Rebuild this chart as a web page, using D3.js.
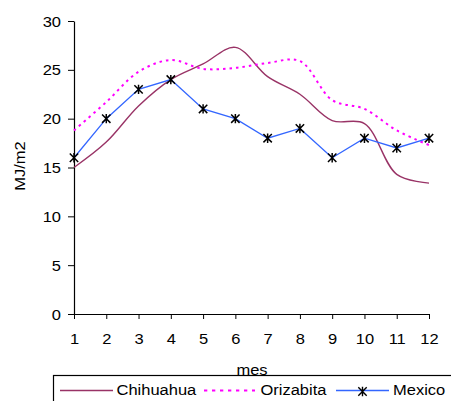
<!DOCTYPE html>
<html>
<head>
<meta charset="utf-8">
<script src="https://cdn.jsdelivr.net/npm/d3@7"></script>
<style>
  body { margin: 0; background: #fff; }
  text { font-family: "Liberation Sans", Arial, sans-serif; }
</style>
</head>
<body>
<div id="chart"></div>
<script>
// months on x
var months = [1, 2, 3, 4, 5, 6, 7, 8, 9, 10, 11, 12]
var yTicks = [0, 5, 10, 15, 20, 25, 30]

// MJ/m2 per station
var chihuahua = [15.0, 17.6, 21.3, 24.0, 25.6, 27.3, 24.3, 22.5, 19.8, 19.5, 14.3, 13.4]
var orizabita = [18.8, 21.7, 24.8, 26.0, 25.1, 25.2, 25.7, 25.9, 21.9, 21.0, 18.8, 17.3]
var mexico = [16, 20, 23, 24, 21, 20, 18, 19, 16, 18, 17, 18]

var seriesNames = ['Chihuahua', 'Orizabita', 'Mexico']

var W = 451, H = 401
var SX = 1.1 // the original text is a bit wider than Arial
var svg = d3.select('#chart').append('svg')
    .attr('width', W)
    .attr('height', H)

var x = d3.scaleLinear().domain([1, 12]).range([74, 429])
var y = d3.scaleLinear().domain([0, 30]).range([314, 21])

// stretch a text horizontally around its own anchor point
function widen(sel) {
    sel.each(function() {
        var t = d3.select(this)
        var tx = +t.attr('x') || 0
        var ty = +t.attr('y') || 0
        t.attr('transform', 'translate(' + tx + ',' + ty + ') scale(' + SX + ',1) translate(' + (-tx) + ',' + (-ty) + ')')
    })
}

// axes
var xAxis = svg.append('g')
    .attr('transform', 'translate(0,' + y(0) + ')')
    .call(d3.axisBottom(x).tickValues(months).tickSize(5).tickPadding(14.5).tickSizeOuter(0).tickFormat(d3.format('d')))
var yAxis = svg.append('g')
    .attr('transform', 'translate(' + x(1) + ',0)')
    .call(d3.axisLeft(y).tickValues(yTicks).tickSize(6).tickPadding(7).tickSizeOuter(0))

svg.selectAll('.domain').attr('stroke', '#000').attr('stroke-width', 1.2)
svg.selectAll('.tick line').attr('stroke', '#000')
svg.selectAll('.tick text')
    .style('font-family', '"Liberation Sans", Arial, sans-serif')
    .style('font-size', '15px')
    .attr('fill', '#000')
yAxis.selectAll('.tick text').attr('dy', '0.34em')
xAxis.selectAll('.tick text').attr('dy', '0.71em')
widen(svg.selectAll('.tick text'))

// axis titles
svg.append('text')
    .attr('transform', 'translate(24.5,166) rotate(-90) scale(' + SX + ',1)')
    .attr('text-anchor', 'middle')
    .style('font-size', '15px')
    .text('MJ/m2')
svg.append('text')
    .attr('x', 252)
    .attr('y', 375)
    .attr('text-anchor', 'middle')
    .style('font-size', '15px')
    .text('mes')
    .call(widen)

// lines
var smooth = d3.line()
    .x(function(d, i) { return x(months[i]) })
    .y(function(d) { return y(d) })
    .curve(d3.curveCatmullRom.alpha(0.5))
var straight = d3.line()
    .x(function(d, i) { return x(months[i]) })
    .y(function(d) { return y(d) })

svg.append('path')
    .datum(chihuahua)
    .attr('d', smooth)
    .attr('fill', 'none')
    .attr('stroke', '#993366')
    .attr('stroke-width', 1.4)

svg.append('path')
    .datum(orizabita)
    .attr('d', smooth)
    .attr('fill', 'none')
    .attr('stroke', '#ff00ff')
    .attr('stroke-width', 2)
    .attr('stroke-dasharray', '2.5,4')

svg.append('path')
    .datum(mexico)
    .attr('d', straight)
    .attr('fill', 'none')
    .attr('stroke', '#3366ff')
    .attr('stroke-width', 1.3)

function star(cx, cy) {
    var r = 4.2
    return 'M' + (cx - r) + ',' + (cy - r) + 'L' + (cx + r) + ',' + (cy + r) +
        'M' + (cx - r) + ',' + (cy + r) + 'L' + (cx + r) + ',' + (cy - r) +
        'M' + cx + ',' + (cy - r - 0.5) + 'L' + cx + ',' + (cy + r + 0.5)
}

svg.append('g').selectAll('path')
    .data(mexico)
    .join('path')
    .attr('d', function(d, i) { return star(x(months[i]), y(d)) })
    .attr('stroke', '#000')
    .attr('stroke-width', 1.5)
    .attr('fill', 'none')

// legend
var legend = svg.append('g')
legend.append('rect')
    .attr('x', 53.5)
    .attr('y', 375.5)
    .attr('width', 420)
    .attr('height', 40)
    .attr('fill', 'none')
    .attr('stroke', '#000')
    .attr('stroke-width', 1.2)

var ly = 390.5
legend.append('line').attr('x1', 60).attr('x2', 113).attr('y1', ly).attr('y2', ly)
    .attr('stroke', '#993366').attr('stroke-width', 1.4)
legend.append('line').attr('x1', 204).attr('x2', 255).attr('y1', ly).attr('y2', ly)
    .attr('stroke', '#ff00ff').attr('stroke-width', 2).attr('stroke-dasharray', '3.3,4.7')
legend.append('line').attr('x1', 336).attr('x2', 389).attr('y1', ly).attr('y2', ly)
    .attr('stroke', '#3366ff').attr('stroke-width', 1.3)
legend.append('path').attr('d', star(362.5, ly + 1))
    .attr('stroke', '#000').attr('stroke-width', 1.4).attr('fill', 'none')

var labelX = [116.5, 260.5, 393]
legend.selectAll('text.lbl')
    .data(seriesNames)
    .join('text')
    .attr('class', 'lbl')
    .attr('x', function(d, i) { return labelX[i] })
    .attr('y', 395.5)
    .style('font-size', '15px')
    .text(function(d) { return d })
    .call(widen)
</script>
</body>
</html>
